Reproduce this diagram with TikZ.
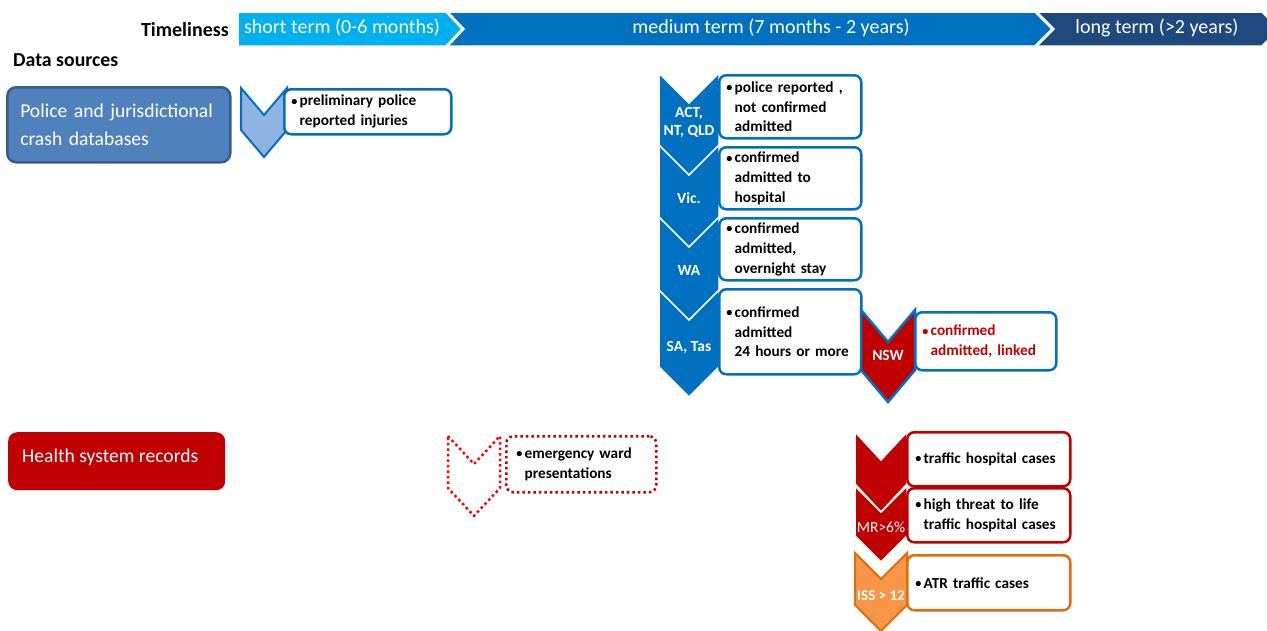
\documentclass[tikz,border=0pt]{standalone}
\usepackage{fontspec}
\setmainfont{Carlito}
\definecolor{ccyan}{HTML}{00B0F0}
\definecolor{cmed}{HTML}{0070C0}
\definecolor{clong}{HTML}{1F497D}
\definecolor{cpol}{HTML}{4F81BD}
\definecolor{cpolb}{HTML}{385D8A}
\definecolor{clight}{HTML}{8DB4E2}
\definecolor{cred}{HTML}{C00000}
\definecolor{cbright}{HTML}{FF0000}
\definecolor{corange}{HTML}{F79646}
\definecolor{corangeb}{HTML}{E46C0A}
\newcommand{\boxfont}{\fontsize{15.3}{19.8}\selectfont\bfseries}
\newcommand{\chevshape}[6]{\path[#1] ({#2-#4},{#3}) -- ({#2},{#3+#5}) -- ({#2+#4},{#3}) -- ({#2+#4},{#3+#6}) -- ({#2},{#3+#6+#5}) -- ({#2-#4},{#3+#6}) -- cycle;}
\newcommand{\bul}{\makebox[0.55em][l]{\raisebox{0.6pt}{\scalebox{0.8}{•}}}}
\newcommand{\bl}{\hphantom{\bul}}
\begin{document}
\begin{tikzpicture}[x=1pt,y=-1pt,
  seg/.style={draw=white, line width=1.5pt, line join=miter},
  bartext/.style={text=white, font=\fontsize{20}{24}\selectfont},
  tbox/.style={draw=cmed, line width=2.5pt, fill=white, rounded corners=7pt, anchor=north west, align=left, inner xsep=7pt, inner ysep=0pt, font=\boxfont},
  srcbox/.style={rounded corners=9pt, anchor=north west, align=left, text=white, inner xsep=13pt, font=\fontsize{19.6}{28}\selectfont},
  chevlabel/.style={text=white, font=\fontsize{15.5}{18}\selectfont\bfseries, align=center, inner sep=0pt},
  bluechev/.style={fill=cmed, draw=white, line width=1.5pt},
  redchev/.style={fill=cred, draw=white, line width=1.5pt}]
\useasboundingbox (0,0) rectangle (1267,630);

% timeline bar
\path[seg, fill=cmed] (448,12) -- (1035,12) -- (1052,29) -- (1035,46) -- (448,46) -- (464,29) -- cycle;
\path[seg, fill=ccyan] (238,12) -- (446,12) -- (462,29) -- (446,46) -- (238,46) -- cycle;
\path[seg, fill=clong] (1037,12) -- (1262,12) -- (1279,29) -- (1262,46) -- (1037,46) -- (1054,29) -- cycle;
\node[bartext] (tshort) at (342,28) {short term (0-6 months)};
\node[bartext] (tmed) at (771,28) {medium term (7 months - 2 years)};
\node[bartext] (tlong) at (1157,28) {long term (>2 years)};
\node[anchor=east, font=\fontsize{20}{24}\selectfont\bfseries, inner sep=0pt] (timeliness) at (229,30) {Timeliness};
\node[anchor=west, font=\fontsize{19.8}{23}\selectfont\bfseries, inner sep=0pt] (datasrc) at (13,60) {Data sources};

% source boxes
\node[srcbox, fill=cpol, draw=cpolb, line width=2.5pt, minimum width=223pt, minimum height=75pt, text width=197pt] (police) at (6,86) {Police and jurisdictional\\crash databases};
\node[srcbox, fill=cred, minimum width=217pt, minimum height=58pt] (health) at (8,432) {};
\node[anchor=west, text=white, inner sep=0pt, font=\fontsize{19.6}{24}\selectfont] (healthtext) at (22,457) {Health system records};

% preliminary police
\chevshape{fill=clight, draw=cmed, line width=2pt, line join=miter}{264}{88}{23}{27}{42}
\node[tbox, minimum width=167pt, minimum height=45pt, text width=153pt] (prelim) at (283,88) {\bul preliminary police\\\bl reported injuries};

% medium term, police
\chevshape{bluechev}{689}{73}{30}{30}{77}
\chevshape{bluechev}{689}{145}{30}{30}{77}
\chevshape{bluechev}{689}{217}{30}{30}{77}
\chevshape{bluechev}{689}{290}{30}{30}{77}
\node[chevlabel] (lact) at (689,122) {ACT,\\NT, QLD};
\node[chevlabel] (lvic) at (689,198) {Vic.};
\node[chevlabel] (lwa) at (689,270) {WA};
\node[chevlabel] (lsa) at (689,347) {SA, Tas};
\node[tbox, minimum width=142pt, minimum height=63pt, text width=128pt] (bact) at (718,74) {\bul police reported ,\\\bl not confirmed\\\bl admitted};
\node[tbox, minimum width=142pt, minimum height=62pt, text width=128pt] (bvic) at (718,146) {\bul confirmed\\\bl admitted to\\\bl hospital};
\node[tbox, minimum width=142pt, minimum height=62pt, text width=128pt] (bwa) at (718,217) {\bul confirmed\\\bl admitted,\\\bl overnight stay};
\node[tbox, minimum width=142pt, minimum height=85pt, text width=128pt] (bsa) at (718,288) {\bul confirmed\\\bl admitted\\\bl 24 hours or more};

% NSW
\chevshape{fill=cred, draw=cmed, line width=2.5pt, line join=miter}{888}{310}{27}{32}{60}
\node[chevlabel] (lnsw) at (888,355) {NSW};
\node[tbox, minimum width=141pt, minimum height=58pt, text width=127pt, text=cred] (bnsw) at (914,311) {\bul confirmed\\\bl admitted, linked};

% emergency
\chevshape{draw=cbright, line width=2.5pt, dash pattern=on 2.5pt off 3pt, line join=round}{474}{436}{26}{28}{52}
\node[tbox, draw=cred, dash pattern=on 2.5pt off 3pt, minimum width=150pt, minimum height=56pt, text width=130pt, inner xsep=10pt] (bemerg) at (505,435) {\bul emergency ward\\\bl presentations};

% health medium term
\chevshape{redchev}{881}{432}{26}{28}{52}
\chevshape{redchev}{881}{486}{26}{26}{50}
\chevshape{fill=corange, draw=corangeb, line width=2pt, line join=miter}{881}{553}{26}{26}{52}
\node[chevlabel, font=\fontsize{15.5}{18}\selectfont] (lmr) at (881,527) {MR>6\%};
\node[chevlabel, font=\fontsize{15}{18}\selectfont\bfseries] (liss) at (881,596) {ISS > 12};
\node[tbox, draw=cred, minimum width=163pt, minimum height=54pt, text width=147pt, inner xsep=8pt] (bthc) at (906,431) {\bul traffic hospital cases};
\node[tbox, draw=cred, minimum width=163pt, minimum height=54pt, text width=147pt, inner xsep=8pt] (bhtl) at (906,487) {\bul high threat to life\\\bl traffic hospital cases};
\node[tbox, draw=corangeb, minimum width=163pt, minimum height=55pt, text width=147pt, inner xsep=8pt] (batr) at (906,554) {\bul ATR traffic cases};
\end{tikzpicture}
\end{document}
